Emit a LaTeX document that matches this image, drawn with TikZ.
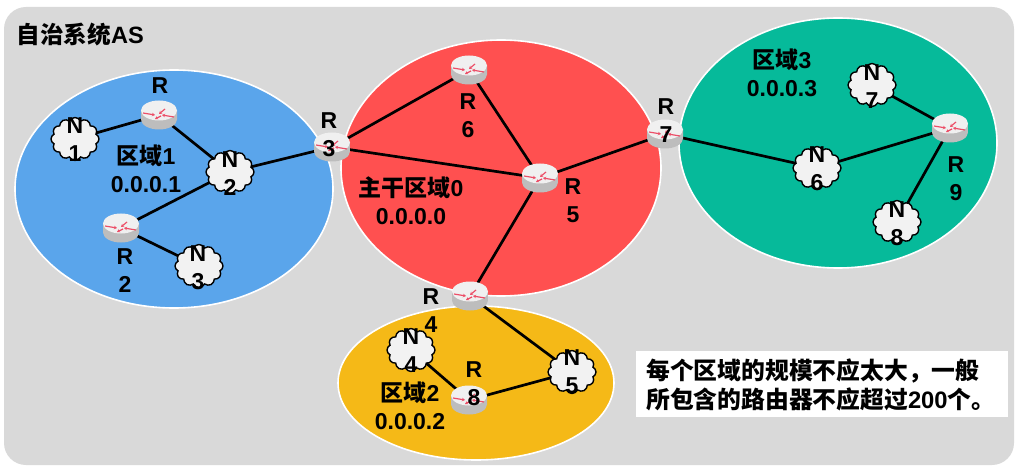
\documentclass[tikz,border=0pt]{standalone}
\usepackage{fontspec}
\setmainfont{Liberation Sans}
\newfontfamily\cjk{Noto Sans CJK SC}
\usetikzlibrary{shapes.geometric,shapes.symbols,arrows.meta}
\newcommand{\zh}[1]{{\cjk #1}}
\definecolor{panel}{HTML}{D9D9D9}
\definecolor{areablue}{HTML}{5AA5EB}
\definecolor{areared}{HTML}{FF5050}
\definecolor{areagreen}{HTML}{06BA9A}
\definecolor{areayellow}{HTML}{F5B917}
\definecolor{routermark}{HTML}{EC4F68}
\pgfdeclarelayer{areas}
\pgfdeclarelayer{links}
\pgfsetlayers{areas,links,main}
% Router icon: short cylinder with four red arrows on its top face
\newcommand{\routerart}{%
  \begin{scope}[shift={(path picture bounding box.center)}]
    \path[left color=black!26,middle color=black!9,right color=black!26]
      (-18,-4.5) -- (-18,4.5) arc[start angle=180,end angle=0,x radius=18,y radius=10]
      -- (18,-4.5) -- cycle;
    \fill[black!6] (0,-4.5) ellipse[x radius=18,y radius=10];
    \begin{scope}[shift={(0,-4.5)},routermark,line width=1.2pt,-{Stealth[length=3pt,width=3.5pt]}]
      \draw (-16,-2) -- (-4,0);
      \draw (2,1) -- (-4,4);
      \draw (6,-6) -- (0,-1);
      \draw (15,2) -- (3,0);
    \end{scope}
  \end{scope}}
\tikzset{
  x=1pt,y=-1pt,
  area/.style={draw=white,line width=1.6pt},
  link/.style={draw=black,line width=2.7pt},
  routerbox/.style={rectangle,minimum width=36pt,minimum height=29pt,inner sep=0pt,path picture={\routerart}},
  netcloud/.style={cloud,cloud puffs=12,cloud puff arc=130,aspect=1.1,draw=black,line width=1.4pt,fill=black!5,
    minimum width=48pt,minimum height=43pt,inner sep=0pt},
  tag/.style={align=center,inner sep=0pt,font=\fontsize{23}{28}\selectfont\bfseries},
  note/.style={inner sep=0pt,anchor=west,font=\fontsize{23.8}{28}\selectfont\bfseries},
}
\begin{document}
\begin{tikzpicture}
  \useasboundingbox (0,0) rectangle (1025,473);
  \begin{pgfonlayer}{areas}
    \fill[panel,rounded corners=22pt] (4,7) rectangle (1014,465);
    \path[area,fill=areablue] (174,189) ellipse[x radius=159,y radius=119];
    \path[area,fill=areared] (501,168) ellipse[x radius=160,y radius=128];
    \path[area,fill=areagreen] (838,143) ellipse[x radius=159,y radius=125];
    \path[area,fill=areayellow] (476,383) ellipse[x radius=138,y radius=77];
  \end{pgfonlayer}

  % Routers
  \node[routerbox] (r1) at (159,115) {};
  \node[routerbox] (r2) at (121,228) {};
  \node[routerbox] (r3) at (332,147) {};
  \node[routerbox] (r4) at (470,296) {};
  \node[routerbox] (r5) at (540,178) {};
  \node[routerbox] (r6) at (469,70) {};
  \node[routerbox] (r7) at (665,134) {};
  \node[routerbox] (r8) at (469,400) {};
  \node[routerbox] (r9) at (950,128) {};

  % Router labels
  \node[tag] (r1t) at (160,86) {R};
  \node[tag] (r2t) at (125,271) {R\\2};
  \node[tag] (r3t) at (329,135) {R\\3};
  \node[tag] (r4t) at (431,311) {R\\4};
  \node[tag] (r5t) at (573,201) {R\\5};
  \node[tag] (r6t) at (468,116) {R\\6};
  \node[tag] (r7t) at (666,121) {R\\7};
  \node[tag] (r8t) at (474,384) {R\\8};
  \node[tag] (r9t) at (956,179) {R\\9};

  % Networks
  \node[netcloud] (n1) at (75,139) {};
  \node[netcloud] (n2) at (230,172) {};
  \node[netcloud] (n3) at (199,266) {};
  \node[netcloud] (n4) at (411,350) {};
  \node[netcloud] (n5) at (572,372) {};
  \node[netcloud] (n6) at (817,168) {};
  \node[netcloud] (n7) at (872,85) {};
  \node[netcloud] (n8) at (897,222) {};

  % Network labels
  \node[tag] (n1t) at (75,140) {N\\1};
  \node[tag] (n2t) at (230,174) {N\\2};
  \node[tag] (n3t) at (198,268) {N\\3};
  \node[tag] (n4t) at (411,351) {N\\4};
  \node[tag] (n5t) at (572,372) {N\\5};
  \node[tag] (n6t) at (817,169) {N\\6};
  \node[tag] (n7t) at (872,87) {N\\7};
  \node[tag] (n8t) at (897,224) {N\\8};

  % Links run beneath the routers and clouds
  \begin{pgfonlayer}{links}
    \foreach \a/\b in {n1/r1,r1/n2,n2/r3,n2/r2,r2/n3,r3/r6,r3/r5,r6/r5,r5/r7,r5/r4,r4/n5,n4/r8,r8/n5,r7/n6,n6/r9,r9/n7,r9/n8}
      \draw[link] (\a.center) -- (\b.center);
  \end{pgfonlayer}

  % Area captions
  \node[tag,anchor=west,font=\fontsize{23.6}{28}\selectfont\bfseries] (title) at (16.5,35) {\zh{自治系统}AS};
  \node[tag] (a1) at (146,169) {\zh{区域}1\\0.0.0.1};
  \node[tag] (a0) at (411,201) {\zh{主干区域}0\\0.0.0.0};
  \node[tag] (a2) at (410,406) {\zh{区域}2\\0.0.0.2};
  \node[tag] (a3) at (782,73) {\zh{区域}3\\0.0.0.3};

  % Remark box
  \fill[white] (636,351) rectangle (1008,417);
  \node[note] (l1) at (646,371) {\zh{每个区域的规模不应太大，一般}};
  \node[note] (l2) at (646,399) {\zh{所包含的路由器不应超过}200\zh{个。}};
\end{tikzpicture}
\end{document}
